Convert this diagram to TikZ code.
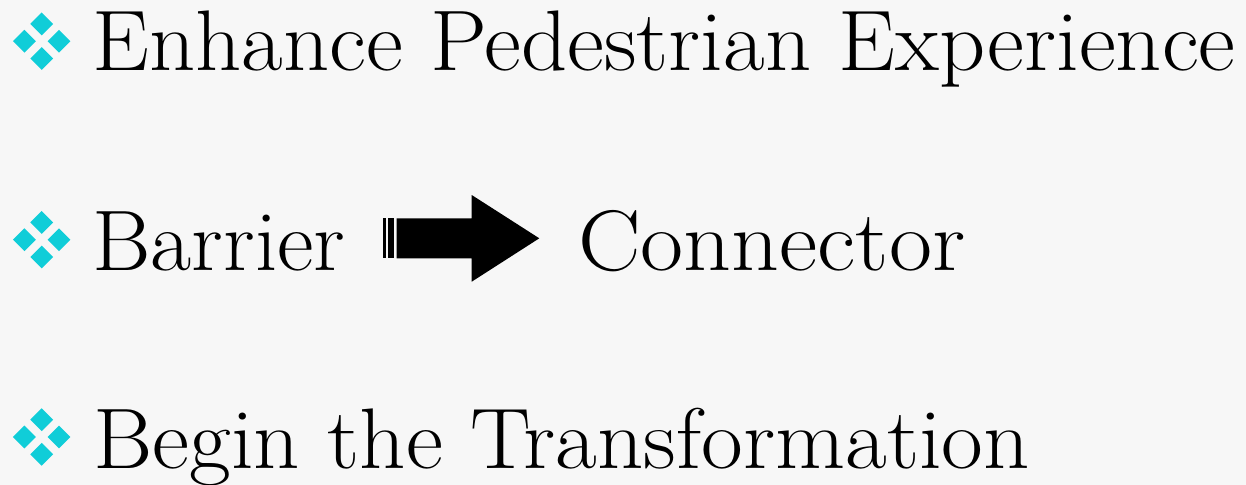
\documentclass[tikz,border=0pt]{standalone}
\usepackage{xcolor}
\usepackage{graphicx}
\usepackage{tikz}
\usetikzlibrary{shapes.geometric}
\definecolor{bulletcyan}{RGB}{16,205,216}
\definecolor{slidebg}{RGB}{247,247,247}
\newcommand{\slidetext}[2][1.055]{\scalebox{#1}[1]{#2}}
\tikzstyle{Dia}=[diamond, minimum width=17.3pt, minimum height=17.3pt, inner sep=0, fill=bulletcyan]
\tikzstyle{Item}=[anchor=base west, inner sep=0, font=\fontsize{64.5}{70}\selectfont]

\begin{document}
\begin{tikzpicture}[x=0.75pt, y=-0.75pt]
    \fill[slidebg] (0,0) rectangle (1246,485);
    \useasboundingbox (0,0) rectangle (1246,485);

    % bullets
    \path
    (41.7,23.9) node[Dia] (b1t) {}
    (24.4,41.2) node[Dia] (b1l) {}
    (59.0,41.2) node[Dia] (b1r) {}
    (41.7,58.5) node[Dia] (b1b) {};

    \path
    (41.7,222.4) node[Dia] (b2t) {}
    (24.4,239.7) node[Dia] (b2l) {}
    (59.0,239.7) node[Dia] (b2r) {}
    (41.7,257.0) node[Dia] (b2b) {};

    \path
    (41.7,419.7) node[Dia] (b3t) {}
    (24.4,437.0) node[Dia] (b3l) {}
    (59.0,437.0) node[Dia] (b3r) {}
    (41.7,454.3) node[Dia] (b3b) {};

    % texts
    \path
    (92,70.7) node[Item] (enhance) {\slidetext[1.052]{Enhance Pedestrian Experience}}
    (92,270) node[Item] (barrier) {\slidetext[1.04]{Barrier}}
    (578,270) node[Item] (connector) {\slidetext[1.09]{Connector}}
    (93,468) node[Item] (begin) {\slidetext{Begin the Transformation}};

    % striped arrow
    \fill (383.3,218.3) rectangle (385.5,258.3);
    \fill (388.3,218.3) rectangle (394,258.3);
    \fill (396.7,218.3) -- (471.7,218.3) -- (471.7,195) -- (539.3,238.3)
        -- (471.7,281.7) -- (471.7,258.3) -- (396.7,258.3) -- cycle;
\end{tikzpicture}
\end{document}
